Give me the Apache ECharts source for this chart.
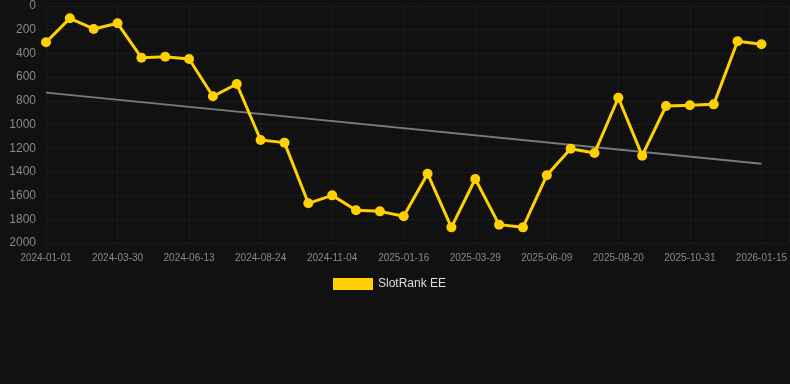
<!DOCTYPE html>
<html>
<head>
<meta charset="utf-8">
<script src="https://cdn.jsdelivr.net/npm/echarts@6/dist/echarts.min.js"></script>
<style>
  html, body { margin: 0; padding: 0; background: #111111; }
  #chart { width: 790px; height: 384px; }
</style>
</head>
<body>
<div id="chart"></div>
<script>
// dates of each rank sample (every third one is labelled on the axis)
const dates = [
  '2024-01-01', '2024-01-31', '2024-03-01', '2024-03-30', '2024-04-24', '2024-05-19',
  '2024-06-13', '2024-07-07', '2024-07-31', '2024-08-24', '2024-09-17', '2024-10-11',
  '2024-11-04', '2024-11-28', '2024-12-23', '2025-01-16', '2025-02-09', '2025-03-05',
  '2025-03-29', '2025-04-22', '2025-05-16', '2025-06-09', '2025-07-03', '2025-07-27',
  '2025-08-20', '2025-09-13', '2025-10-07', '2025-10-31', '2025-11-25', '2025-12-20',
  '2026-01-15',
]
const rankValues = [
  306, 104, 194, 146, 436, 428, 447, 762, 658, 1131,
  1153, 1665, 1598, 1724, 1733, 1775, 1415, 1868, 1460, 1845,
  1868, 1429, 1204, 1241, 774, 1263, 844, 838, 830, 298,
  323,
]
// trend line, start and end values
const trendValues = [731, 1331]
const yTicks = [0, 200, 400, 600, 800, 1000, 1200, 1400, 1600, 1800, 2000]

var myChart = echarts.init(document.getElementById('chart'))
var option

const rankData = rankValues.map((v, i) => [i, v])
const trendData = [
  [0, trendValues[0]],
  [dates.length - 1, trendValues[1]],
]

option = {
  backgroundColor: '#111111',
  animation: false,
  textStyle: {
    fontFamily: 'Liberation Sans, Arial, sans-serif',
  },
  grid: {
    top: 6,
    left: 46,
    right: 0,
    bottom: 141,
  },
  legend: {
    data: ['SlotRank EE'],
    left: 328,
    top: 273,
    icon: 'rect',
    itemWidth: 40,
    itemHeight: 12,
    itemGap: 10,
    textStyle: {
      color: '#dddddd',
      fontSize: 12,
    },
  },
  xAxis: {
    type: 'value',
    min: 0,
    // last sample sits at 762px, the grid runs on to the edge
    max: 31.17,
    interval: 3,
    axisLine: { show: false },
    axisTick: { show: false },
    axisLabel: {
      color: '#888888',
      fontSize: 10,
      margin: 10,
      showMaxLabel: false,
      formatter: function (v) {
        if (Number.isInteger(v) && v % 3 === 0 && dates[v]) return dates[v]
        return ''
      },
    },
    splitLine: {
      show: true,
      lineStyle: { color: '#1a1a1a', width: 1 },
    },
  },
  yAxis: {
    type: 'value',
    inverse: true,
    min: yTicks[0],
    max: yTicks[yTicks.length - 1],
    interval: 200,
    axisLine: { show: false },
    axisTick: { show: false },
    axisLabel: {
      color: '#888888',
      fontSize: 12,
      margin: 10,
      formatter: function (v) {
        return String(v)
      },
    },
    splitLine: {
      show: true,
      lineStyle: { color: '#1c1c1c', width: 1 },
    },
  },
  series: [
    {
      name: 'trend',
      type: 'line',
      data: trendData,
      showSymbol: false,
      silent: true,
      lineStyle: { color: '#7a7a7a', width: 2 },
      z: 1,
    },
    {
      name: 'SlotRank EE',
      type: 'line',
      data: rankData,
      symbol: 'circle',
      symbolSize: 10,
      itemStyle: { color: '#ffd000' },
      lineStyle: { color: '#ffd000', width: 3 },
      z: 3,
    },
  ],
}

option && myChart.setOption(option)
</script>
</body>
</html>
